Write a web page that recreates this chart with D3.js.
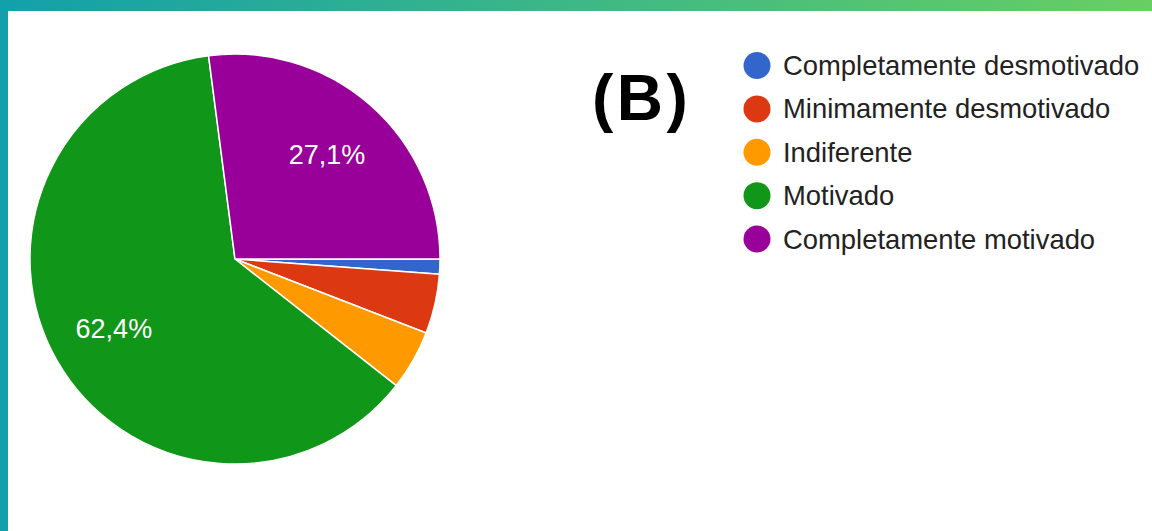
<!DOCTYPE html>
<html>
<head>
<meta charset="utf-8">
<script src="https://cdn.jsdelivr.net/npm/d3@7"></script>
<style>
  html, body { margin: 0; padding: 0; background: #fff; }
  svg { display: block; }
</style>
</head>
<body>
<div id="chart"></div>
<script>
// data
const categories = ["Completamente desmotivado", "Minimamente desmotivado", "Indiferente", "Motivado", "Completamente motivado"];
const counts = [1, 4, 4, 53, 23];
const colors = ["#3366cc", "#dc3912", "#ff9900", "#109618", "#990099"];
const panelLabel = "(B)";

// config
const width = 1152;
const height = 531;
const cx = 235, cy = 259, radius = 205;

const svg = d3.select("#chart")
  .append("svg")
  .attr("width", width)
  .attr("height", height)
  .attr("viewBox", [0, 0, width, height]);

// frame: gradient top bar and teal left bar
const grad = svg.append("defs").append("linearGradient")
  .attr("id", "topbar")
  .attr("x1", "0%").attr("x2", "100%");
grad.append("stop").attr("offset", "0%").attr("stop-color", "#12a0aa");
grad.append("stop").attr("offset", "100%").attr("stop-color", "#68cf62");

svg.append("rect").attr("x", 0).attr("y", 0).attr("width", width).attr("height", 11).attr("fill", "url(#topbar)");
svg.append("rect").attr("x", 0).attr("y", 0).attr("width", 8).attr("height", height).attr("fill", "#12a0aa");

// pie
const total = d3.sum(counts);
const data = categories.map((c, i) => ({ name: c, value: counts[i], color: colors[i] }));

const pie = d3.pie()
  .sort(null)
  .value(d => d.value)
  .startAngle(Math.PI / 2)
  .endAngle(Math.PI / 2 + 2 * Math.PI);

const arc = d3.arc().innerRadius(0).outerRadius(radius);
const labelArc = d3.arc().innerRadius(radius * 0.68).outerRadius(radius * 0.68);

const g = svg.append("g").attr("transform", `translate(${cx},${cy})`);

const arcs = pie(data);

g.selectAll("path.slice")
  .data(arcs)
  .join("path")
  .attr("class", "slice")
  .attr("d", arc)
  .attr("fill", d => d.data.color)
  .attr("stroke", "#ffffff")
  .attr("stroke-width", 1.5)
  .attr("stroke-linejoin", "round");

// percentage labels only on big slices
const fmt = v => (v * 100).toFixed(1).replace(".", ",") + "%";

g.selectAll("text.pct")
  .data(arcs.filter(d => d.data.value / total > 0.1))
  .join("text")
  .attr("class", "pct")
  .attr("x", d => labelArc.centroid(d)[0])
  .attr("y", d => labelArc.centroid(d)[1] + 10)
  .attr("text-anchor", "middle")
  .attr("font-family", "'Liberation Sans', Arial, sans-serif")
  .attr("font-size", 27)
  .attr("fill", "#ffffff")
  .text(d => fmt(d.data.value / total));

// legend
const legend = svg.append("g");
const rowY = d3.scalePoint().domain(categories).range([65.5, 239]);

const rows = legend.selectAll("g.row")
  .data(data)
  .join("g")
  .attr("class", "row")
  .attr("transform", d => `translate(0,${rowY(d.name)})`);

rows.append("circle")
  .attr("cx", 757)
  .attr("cy", 0)
  .attr("r", 13.5)
  .attr("fill", d => d.color);

rows.append("text")
  .attr("x", 783)
  .attr("y", 9.5)
  .attr("font-family", "'Liberation Sans', Arial, sans-serif")
  .attr("font-size", 27.4)
  .attr("fill", "#222222")
  .text(d => d.name);

// panel letter
svg.append("text")
  .attr("x", 592)
  .attr("y", 120)
  .attr("font-family", "'Liberation Sans', Arial, sans-serif")
  .attr("font-weight", "bold")
  .attr("font-size", 64)
  .attr("letter-spacing", 3.5)
  .attr("fill", "#000000")
  .text(panelLabel);
</script>
</body>
</html>
